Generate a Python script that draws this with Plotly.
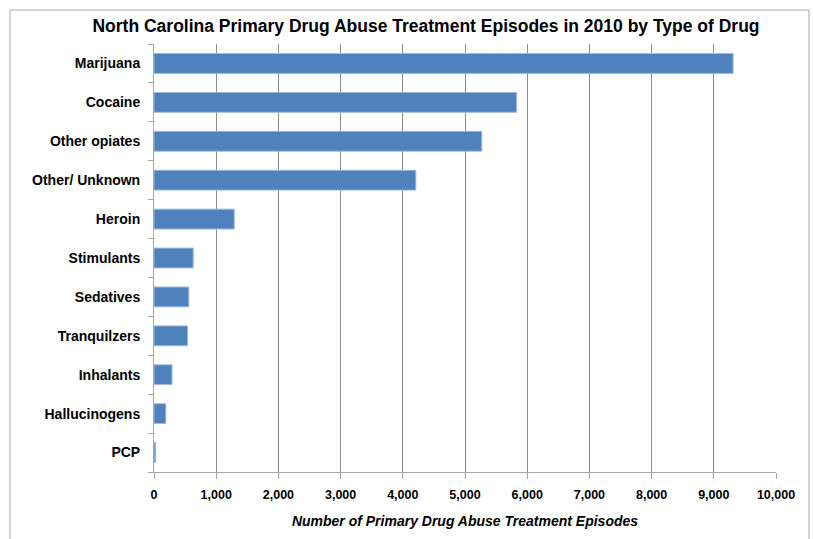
import plotly.graph_objects as go

drugs = ["Marijuana", "Cocaine", "Other opiates", "Other/ Unknown", "Heroin",
         "Stimulants", "Sedatives", "Tranquilzers", "Inhalants", "Hallucinogens", "PCP"]
episodes = [9310, 5830, 5270, 4210, 1290, 630, 560, 540, 290, 190, 27]
x_ticks = list(range(0, 10001, 1000))
x_tick_text = [f"{v:,}" for v in x_ticks]

W, H = 813, 539
L, R, T, B = 154, 37, 44, 67
pw, ph = W - L - R, H - T - B

fig = go.Figure(go.Bar(
    y=drugs, x=episodes, orientation="h",
    marker=dict(color="#4F81BD", line=dict(color="#9BBBE0", width=1)),
))

font_fam = "Liberation Sans, Arial, sans-serif"
fig.update_layout(
    width=W, height=H,
    margin=dict(l=L, r=R, t=T, b=B),
    paper_bgcolor="white", plot_bgcolor="white",
    bargap=0.49,
    showlegend=False,
    title=dict(text="<b>North Carolina Primary Drug Abuse Treatment Episodes in 2010 by Type of Drug</b>",
               x=426 / W, xanchor="center", y=1 - 26 / H, yanchor="middle",
               font=dict(family=font_fam, size=17.5, color="black")),
    font=dict(family=font_fam, color="black"),
)
fig.update_xaxes(
    range=[0, 10000], tickvals=x_ticks, ticktext=[f"<b>{t}</b>" for t in x_tick_text],
    showgrid=True, gridcolor="#8C8C8C", gridwidth=1,
    showline=True, linecolor="#A6A6A6", linewidth=1,
    ticks="outside", ticklen=6, tickcolor="#A6A6A6",
    tickfont=dict(size=12.5, family=font_fam, color="black"),
    ticklabelstandoff=5,
    zeroline=False,
    title=dict(text="<b><i>Number of Primary Drug Abuse Treatment Episodes</i></b>",
               font=dict(size=14, family=font_fam, color="black"), standoff=15),
)
fig.update_yaxes(
    categoryorder="array", categoryarray=drugs, autorange="reversed",
    tickvals=drugs, ticktext=[f"<b>{d}</b>" for d in drugs],
    showline=True, linecolor="#A6A6A6", linewidth=1,
    ticks="outside", ticklen=5, tickcolor="#A6A6A6", tickson="boundaries",
    tickfont=dict(size=14, family=font_fam, color="black"),
    ticklabelstandoff=10,
    showgrid=False,
)

# outer chart-area border (bottom edge lies below the visible page)
fig.add_shape(type="rect", xref="paper", yref="paper",
              x0=(10 - L) / pw, x1=(809 - L) / pw,
              y0=-(560 - (T + ph)) / ph, y1=1 + (T - 10) / ph,
              line=dict(color="#A6A6A6", width=1), fillcolor="rgba(0,0,0,0)", layer="below")

fig.write_html("out.html")
